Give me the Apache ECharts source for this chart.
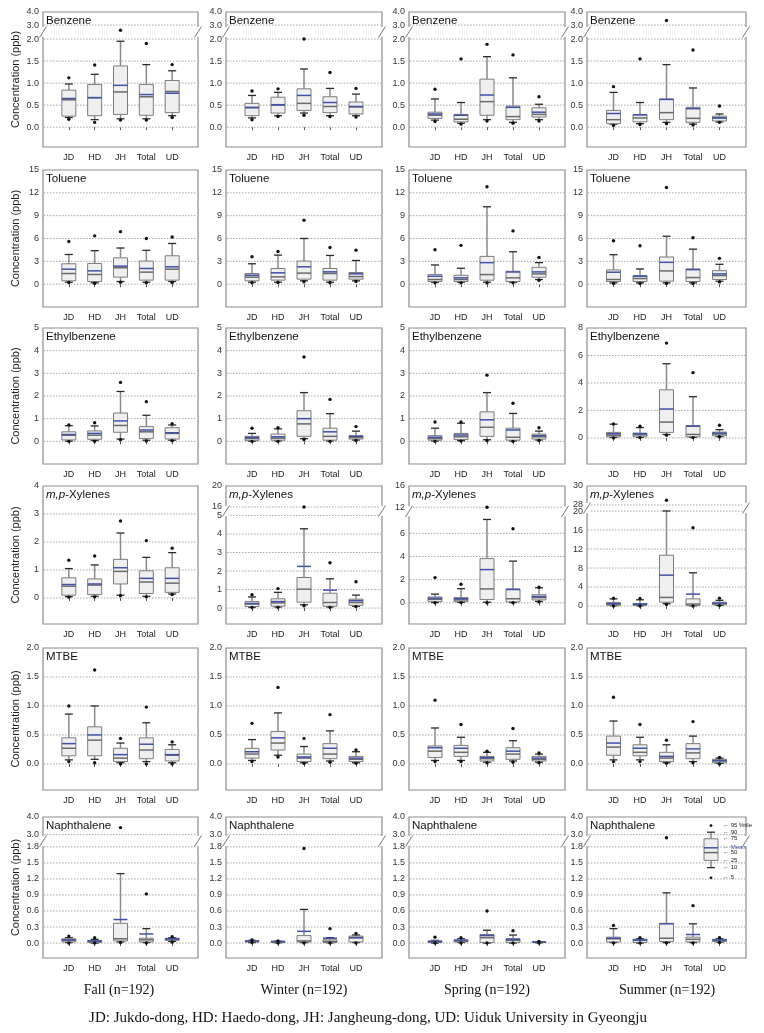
<!DOCTYPE html>
<html><head><meta charset="utf-8">
<script src="https://cdn.jsdelivr.net/npm/echarts@6/dist/echarts.min.js"></script>
<style>html,body{margin:0;padding:0;background:#fff}#c{width:764px;height:1033px}</style>
</head><body><div id="c"></div>
<script>
const categories = ['JD','HD','JH','Total','UD'];
const seasons = ['Fall (n=192)','Winter (n=192)','Spring (n=192)','Summer (n=192)'];
const compounds = ['Benzene','Toluene','Ethylbenzene','{i|m,p}-Xylenes','MTBE','Naphthalene'];
const footnote = 'JD: Jukdo-dong, HD: Haedo-dong, JH: Jangheung-dong, UD: Uiduk University in Gyeongju';
const yTitle = 'Concentration (ppb)';

// per site: [p5, p10, p25, p50, mean, p75, p90, p95]
const benzeneFall = [[0.18,0.22,0.25,0.62,0.65,0.84,0.98,1.12],[0.11,0.17,0.26,0.67,0.67,0.97,1.20,1.41],[0.16,0.19,0.29,0.80,0.95,1.39,1.95,2.63],[0.16,0.19,0.27,0.69,0.74,0.97,1.42,1.90],[0.22,0.26,0.33,0.81,0.77,1.06,1.28,1.42]];
const benzeneWinter = [[0.17,0.21,0.26,0.44,0.45,0.54,0.72,0.82],[0.24,0.26,0.32,0.50,0.51,0.68,0.79,0.87],[0.27,0.32,0.38,0.54,0.72,0.87,1.32,2.0],[0.24,0.26,0.33,0.47,0.56,0.69,0.88,1.24],[0.23,0.26,0.30,0.46,0.47,0.57,0.75,0.88]];
const benzeneSpring = [[0.13,0.16,0.20,0.27,0.30,0.34,0.64,0.86],[0.07,0.09,0.12,0.18,0.27,0.29,0.56,1.55],[0.14,0.17,0.27,0.58,0.73,1.09,1.60,1.88],[0.09,0.11,0.17,0.24,0.45,0.48,1.12,1.64],[0.14,0.17,0.23,0.29,0.34,0.44,0.52,0.69]];
const benzeneSummer = [[0.04,0.07,0.08,0.17,0.31,0.38,0.79,0.92],[0.06,0.08,0.12,0.21,0.28,0.28,0.56,1.55],[0.08,0.11,0.17,0.33,0.63,0.64,1.42,3.35],[0.05,0.07,0.11,0.20,0.42,0.45,0.89,1.75],[0.11,0.12,0.14,0.21,0.21,0.25,0.30,0.48]];

const tolueneFall = [[0.22,0.26,0.44,1.40,1.97,2.68,3.90,5.6],[0.10,0.18,0.35,1.27,1.75,2.72,4.40,6.35],[0.26,0.35,0.92,2.15,2.37,3.46,4.75,6.9],[0.18,0.26,0.53,1.58,2.06,3.03,4.45,6.0],[0.22,0.35,0.53,1.97,2.28,3.73,5.35,6.2]];
const tolueneWinter = [[0.18,0.26,0.44,0.92,1.18,1.40,2.68,3.6],[0.22,0.26,0.53,0.96,1.49,2.06,3.82,4.3],[0.31,0.44,0.66,1.45,2.28,3.03,6.0,8.4],[0.18,0.26,0.53,1.40,1.62,2.06,3.77,4.82],[0.35,0.44,0.66,1.0,1.36,1.53,3.11,4.47]];
const tolueneSpring = [[0.17,0.26,0.35,0.61,1.04,1.26,2.52,4.52],[0.17,0.26,0.35,0.61,0.83,1.17,2.09,5.1],[0.17,0.26,0.52,1.26,2.83,3.65,10.17,12.8],[0.17,0.26,0.35,0.83,1.6,1.70,4.26,7.0],[0.52,0.61,0.91,1.35,1.61,2.22,2.83,3.52]];
const tolueneSummer = [[0.09,0.17,0.35,0.61,1.57,1.87,3.87,5.7],[0.09,0.17,0.35,0.74,1.04,1.13,2.0,5.04],[0.09,0.17,0.39,1.74,2.87,3.57,6.3,12.7],[0.09,0.17,0.35,0.87,1.91,2.0,4.6,6.09],[0.30,0.39,0.61,1.13,1.35,1.78,2.61,3.39]];

const ethylFall = [[0.0,0.01,0.06,0.27,0.30,0.42,0.69,0.72],[0.0,0.04,0.09,0.27,0.35,0.46,0.68,0.82],[0.07,0.1,0.4,0.7,0.9,1.25,2.2,2.6],[0.02,0.05,0.12,0.42,0.5,0.65,1.15,1.75],[0.03,0.05,0.1,0.35,0.38,0.6,0.72,0.78]];
const ethylWinter = [[0.0,0.01,0.03,0.12,0.17,0.22,0.35,0.58],[0.0,0.02,0.05,0.14,0.2,0.32,0.55,0.6],[0.08,0.12,0.22,0.77,1.0,1.35,2.15,3.72],[0.0,0.02,0.05,0.22,0.42,0.58,1.22,1.85],[0.04,0.06,0.1,0.17,0.22,0.25,0.45,0.65]];
const ethylSpring = [[0.0,0.02,0.05,0.12,0.18,0.25,0.58,0.85],[0.01,0.03,0.08,0.2,0.28,0.35,0.8,0.85],[0.04,0.07,0.22,0.62,0.95,1.3,2.15,2.92],[0.0,0.02,0.05,0.18,0.5,0.58,1.23,1.68],[0.04,0.06,0.1,0.2,0.25,0.32,0.45,0.6]];
const ethylSummer = [[0.0,0.03,0.08,0.2,0.3,0.4,1.0,1.02],[0.02,0.04,0.08,0.22,0.3,0.35,0.75,0.85],[0.2,0.25,0.4,1.15,2.1,3.5,5.4,6.9],[0.02,0.04,0.08,0.25,0.85,0.9,3.0,4.75],[0.08,0.1,0.15,0.28,0.35,0.42,0.6,0.92]];

const xyleneFall = [[0.03,0.05,0.1,0.42,0.48,0.72,1.05,1.35],[0.04,0.06,0.12,0.46,0.5,0.68,1.18,1.5],[0.08,0.1,0.5,0.95,1.08,1.38,2.32,2.75],[0.04,0.06,0.16,0.57,0.7,0.97,1.45,2.05],[0.12,0.14,0.2,0.53,0.7,1.08,1.62,1.78]];
const xyleneWinter = [[0.03,0.05,0.08,0.22,0.25,0.35,0.6,0.72],[0.04,0.06,0.1,0.28,0.35,0.5,0.85,1.05],[0.12,0.18,0.32,1.02,2.25,1.65,4.28,16.0],[0.04,0.06,0.1,0.3,0.97,0.8,1.58,2.45],[0.08,0.1,0.15,0.3,0.4,0.48,0.7,1.42]];
const xyleneSpring = [[0.0,0.03,0.1,0.3,0.4,0.5,0.75,2.18],[0.02,0.04,0.1,0.25,0.35,0.45,1.22,1.6],[0.0,0.05,0.28,1.2,2.87,3.82,7.2,12.0],[0.01,0.03,0.08,0.35,1.15,1.2,3.6,6.4],[0.08,0.12,0.25,0.45,0.55,0.7,1.3,1.35]];
const xyleneSummer = [[0.0,0.05,0.15,0.4,0.5,0.75,1.5,1.65],[0.0,0.05,0.15,0.3,0.4,0.5,1.3,1.6],[0.3,0.5,0.8,1.8,6.5,10.7,20.2,28.5],[0.0,0.05,0.1,0.4,2.5,1.5,7.0,16.5],[0.08,0.12,0.25,0.5,0.6,0.8,1.2,1.65]];

const mtbeFall = [[0.04,0.07,0.14,0.27,0.35,0.45,0.86,1.0],[0.02,0.08,0.14,0.41,0.5,0.64,1.0,1.62],[0.0,0.02,0.04,0.1,0.16,0.27,0.36,0.44],[0.0,0.04,0.09,0.24,0.34,0.45,0.71,0.98],[0.0,0.02,0.05,0.15,0.16,0.25,0.33,0.38]];
const mtbeWinter = [[0.04,0.06,0.1,0.17,0.21,0.27,0.42,0.7],[0.12,0.15,0.24,0.36,0.45,0.56,0.88,1.32],[0.01,0.02,0.04,0.1,0.12,0.17,0.3,0.44],[0.03,0.05,0.09,0.17,0.27,0.35,0.57,0.85],[0.01,0.02,0.04,0.08,0.1,0.13,0.21,0.24]];
const mtbeSpring = [[0.04,0.06,0.11,0.22,0.28,0.31,0.62,1.1],[0.04,0.06,0.13,0.2,0.27,0.32,0.46,0.68],[0.02,0.03,0.05,0.09,0.11,0.13,0.2,0.22],[0.03,0.05,0.08,0.17,0.22,0.28,0.4,0.61],[0.02,0.03,0.05,0.08,0.1,0.13,0.17,0.19]];
const mtbeSummer = [[0.04,0.07,0.15,0.29,0.36,0.48,0.74,1.15],[0.04,0.07,0.14,0.2,0.27,0.33,0.46,0.68],[0.01,0.02,0.04,0.1,0.13,0.2,0.33,0.41],[0.02,0.04,0.09,0.19,0.26,0.35,0.48,0.73],[0.0,0.01,0.02,0.05,0.06,0.08,0.1,0.11]];

const naphFall = [[0.0,0.01,0.02,0.05,0.06,0.08,0.1,0.13],[0.0,0.0,0.01,0.03,0.04,0.05,0.07,0.1],[0.01,0.02,0.04,0.08,0.44,0.37,1.3,3.4],[0.0,0.01,0.02,0.06,0.17,0.09,0.27,0.92],[0.02,0.03,0.05,0.07,0.08,0.09,0.1,0.12]];
const naphWinter = [[0.01,0.01,0.02,0.03,0.04,0.04,0.05,0.06],[0.0,0.005,0.01,0.02,0.03,0.03,0.035,0.04],[0.0,0.01,0.02,0.04,0.22,0.14,0.63,1.77],[0.0,0.005,0.01,0.03,0.09,0.06,0.1,0.27],[0.0,0.01,0.02,0.1,0.1,0.13,0.15,0.18]];
const naphSpring = [[0.0,0.0,0.01,0.02,0.03,0.04,0.05,0.11],[0.0,0.01,0.02,0.04,0.05,0.06,0.08,0.1],[0.0,0.0,0.01,0.1,0.14,0.16,0.24,0.6],[0.0,0.0,0.01,0.05,0.07,0.08,0.15,0.23],[0.0,0.005,0.01,0.015,0.02,0.02,0.025,0.03]];
const naphSummer = [[0.0,0.01,0.02,0.08,0.09,0.11,0.27,0.33],[0.0,0.0,0.01,0.05,0.06,0.07,0.08,0.1],[0.0,0.01,0.03,0.09,0.36,0.37,0.94,2.7],[0.0,0.01,0.02,0.07,0.16,0.11,0.36,0.7],[0.01,0.02,0.03,0.05,0.06,0.07,0.08,0.1]];

// legend key (illustrative positions) and its labels
const legendKey = [0.7, 2.4, 3.6, 4.9, 5.7, 7.2, 8.3, 9.4];
const legendNames = ['5','10','25','50','Mean','75','90','95 %tile'];

// tick labels
const benzeneTicks = [0,0.5,1,1.5,2,3,4];
const tolueneTicks = [0,3,6,9,12,15];
const ethylTicks = [0,1,2,3,4,5];
const ethylSummerTicks = [0,2,4,6,8];
const xyleneFallTicks = [0,1,2,3,4];
const xyleneWinterTicks = [0,1,2,3,4,5,16,20];
const xyleneSpringTicks = [0,2,4,6,12,16];
const xyleneSummerTicks = [0,4,8,12,16,20,28,30];
const mtbeTicks = [0,0.5,1,1.5,2];
const naphTicks = [0,0.3,0.6,0.9,1.2,1.5,1.8,3,4];

// axis scale set-up (broken axes: value -> display knots)
const scaleBenzene = {min:-0.45, knots:[[2,2],[3,2.318],[4,2.614]], brk:2.16, dec:1};
const scaleToluene = {min:-3, dec:0};
const scaleEthyl = {min:-1, dec:0};
const scaleEthylSummer = {min:-1.9, dec:0};
const scaleXyleneFall = {min:-0.93, dec:0};
const scaleXyleneWinter = {min:-0.86, knots:[[5,5],[16,5.46],[20,6.59]], brk:5.24, dec:0};
const scaleXyleneSpring = {min:-1.83, knots:[[7.6,7.6],[12,8.26],[16,10.09]], brk:7.9, dec:0};
const scaleXyleneSummer = {min:-3.8, knots:[[20,20],[28,21.3],[30,25.3]], brk:20.65, dec:0};
const scaleMtbe = {min:-0.45, dec:1};
const scaleNaph = {min:-0.28, knots:[[1.8,1.8],[3,2.03],[4,2.36]], brk:1.91, dec:1};

const panelDefs = [
  [[benzeneFall,benzeneTicks,scaleBenzene],[benzeneWinter,benzeneTicks,scaleBenzene],[benzeneSpring,benzeneTicks,scaleBenzene],[benzeneSummer,benzeneTicks,scaleBenzene]],
  [[tolueneFall,tolueneTicks,scaleToluene],[tolueneWinter,tolueneTicks,scaleToluene],[tolueneSpring,tolueneTicks,scaleToluene],[tolueneSummer,tolueneTicks,scaleToluene]],
  [[ethylFall,ethylTicks,scaleEthyl],[ethylWinter,ethylTicks,scaleEthyl],[ethylSpring,ethylTicks,scaleEthyl],[ethylSummer,ethylSummerTicks,scaleEthylSummer]],
  [[xyleneFall,xyleneFallTicks,scaleXyleneFall],[xyleneWinter,xyleneWinterTicks,scaleXyleneWinter],[xyleneSpring,xyleneSpringTicks,scaleXyleneSpring],[xyleneSummer,xyleneSummerTicks,scaleXyleneSummer]],
  [[mtbeFall,mtbeTicks,scaleMtbe],[mtbeWinter,mtbeTicks,scaleMtbe],[mtbeSpring,mtbeTicks,scaleMtbe],[mtbeSummer,mtbeTicks,scaleMtbe]],
  [[naphFall,naphTicks,scaleNaph],[naphWinter,naphTicks,scaleNaph],[naphSpring,naphTicks,scaleNaph],[naphSummer,naphTicks,scaleNaph]]
];

const rowsTop = [12,170,328,486,648,817];
const rowsBottom = [147,307,464,624,790,958];
const colsLeft = [43,226,409,587];
const colsRight = [198,382,565,746];

function tf(v, knots){
  if(!knots || v <= knots[0][0]) return v;
  for (let i=0;i<knots.length-1;i++){
    const a=knots[i][0], da=knots[i][1], b=knots[i+1][0], db=knots[i+1][1];
    if (v<=b) return da+(v-a)*(db-da)/(b-a);
  }
  const n=knots.length, a=knots[n-2][0], da=knots[n-2][1], b=knots[n-1][0], db=knots[n-1][1];
  return db+(v-b)*(db-da)/(b-a);
}

const BOX_FILL='#efefef', BOX_LINE='#7c7c7c', WHISK='#8a8a8a', CAP='#2a2a2a', MED='#6a6a6a', MEAN='#4052a8', DOT='#111';

function boxShapes(x, ys, hw, cw, r){
  const [y5,y10,y25,y50,ym,y75,y90,y95]=ys;
  return [
    {type:'line', shape:{x1:x,y1:y10,x2:x,y2:y25}, style:{stroke:WHISK,lineWidth:1.5}},
    {type:'line', shape:{x1:x,y1:y75,x2:x,y2:y90}, style:{stroke:WHISK,lineWidth:1.5}},
    {type:'line', shape:{x1:x-cw,y1:y10,x2:x+cw,y2:y10}, style:{stroke:CAP,lineWidth:1.3}},
    {type:'line', shape:{x1:x-cw,y1:y90,x2:x+cw,y2:y90}, style:{stroke:CAP,lineWidth:1.3}},
    {type:'rect', shape:{x:x-hw,y:y75,width:2*hw,height:Math.max(y25-y75,0.5)}, style:{fill:BOX_FILL,stroke:BOX_LINE,lineWidth:1}},
    {type:'line', shape:{x1:x-hw,y1:y50,x2:x+hw,y2:y50}, style:{stroke:MED,lineWidth:1.5}},
    {type:'line', shape:{x1:x-hw,y1:ym,x2:x+hw,y2:ym}, style:{stroke:MEAN,lineWidth:1.5}},
    {type:'circle', shape:{cx:x,cy:y5,r:r}, style:{fill:DOT}},
    {type:'circle', shape:{cx:x,cy:y95,r:r}, style:{fill:DOT}}
  ];
}

const grids=[], xAxes=[], yAxes=[], series=[], titles=[];
panelDefs.forEach((row, r) => row.forEach((p, c) => {
  const [data, ticks, sc] = p;
  const gi = grids.length;
  grids.push({left:colsLeft[c], top:rowsTop[r], width:colsRight[c]-colsLeft[c], height:rowsBottom[r]-rowsTop[r],
    show:true, borderColor:'#8c8c8c', borderWidth:1.2, backgroundColor:'#fff'});
  const tickD = ticks.map(t=>tf(t, sc.knots));
  const max = tickD[tickD.length-1];
  xAxes.push({gridIndex:gi, type:'category', data:['',...categories,''], boundaryGap:false,
    axisLine:{show:false}, splitLine:{show:false},
    axisTick:{show:true, length:3, interval:(i)=>i>0&&i<6, lineStyle:{color:'#555'}},
    axisLabel:{interval:0, fontSize:9, color:'#222', margin:6, fontFamily:'Arial'}});
  yAxes.push({gridIndex:gi, type:'value', min:sc.min, max:max,
    axisLine:{show:false}, axisTick:{show:false}, splitLine:{show:false},
    name: c===0 ? yTitle : '', nameLocation:'middle', nameGap:22,
    nameTextStyle:{fontSize:11, color:'#222', fontFamily:'Arial'},
    axisLabel:{customValues:tickD, fontSize:9, color:'#333', margin:4, fontFamily:'Arial',
      showMinLabel:true, showMaxLabel:true,
      formatter:(v)=>{ let k=0,b=1e9; tickD.forEach((d,i)=>{const e=Math.abs(d-v); if(e<b){b=e;k=i;}}); return ticks[k].toFixed(sc.dec);} }});
  titles.push({text:compounds[r], left:colsLeft[c]+3, top:rowsTop[r]+3, padding:0,
    textStyle:{fontSize:11.5, fontWeight:'normal', color:'#111', fontFamily:'Arial',
      rich:{i:{fontStyle:'italic', fontSize:11.5, color:'#111', fontFamily:'Arial'}}}});
  // dotted grid lines at ticks
  series.push({type:'custom', xAxisIndex:gi, yAxisIndex:gi, silent:true, z:1, clip:false,
    data: tickD.slice(0,-1).map(d=>[0,d]),
    renderItem:(params, api)=>{
      const p1=api.coord([0, api.value(1)]), p2=api.coord([6, api.value(1)]);
      return {type:'line', shape:{x1:p1[0]+1,y1:p1[1],x2:p2[0]-1,y2:p1[1]}, style:{stroke:'#8f8f8f', lineWidth:0.8, lineDash:[1.5,1.5]}};
    }});
  // boxes
  series.push({type:'custom', xAxisIndex:gi, yAxisIndex:gi, silent:true, z:3, clip:false,
    encode:{x:0, y:1},
    data: data.map((s,i)=>[i+1, ...s.map(v=>tf(v, sc.knots))]),
    renderItem:(params, api)=>{
      const x = api.coord([api.value(0), 0])[0];
      const ys=[]; for(let k=1;k<=8;k++) ys.push(api.coord([api.value(0), api.value(k)])[1]);
      return {type:'group', children: boxShapes(x, ys, 7, 4, 1.7)};
    }});
  // axis break marks
  if (sc.brk !== undefined) {
    series.push({type:'custom', xAxisIndex:gi, yAxisIndex:gi, silent:true, z:5, clip:false,
      data:[[0, sc.brk]],
      renderItem:(params, api)=>{
        const p1=api.coord([0, api.value(1)]), p2=api.coord([6, api.value(1)]);
        const ch=[];
        [p1[0], p2[0]].forEach(x0=>{
          const yc=p1[1];
          ch.push({type:'rect', shape:{x:x0-2, y:yc-5, width:4, height:10}, style:{fill:'#fff'}});
          ch.push({type:'line', shape:{x1:x0-3.5, y1:yc+5.5, x2:x0+3.5, y2:yc-5.5}, style:{stroke:'#777', lineWidth:1}});
        });
        return {type:'group', children:ch};
      }});
  }
}));

// legend key in the summer naphthalene panel
const lg = grids.length;
grids.push({left:703, top:822, width:16, height:60, show:false});
xAxes.push({gridIndex:lg, type:'value', min:-1, max:1, show:false});
yAxes.push({gridIndex:lg, type:'value', min:0, max:10, show:false});
series.push({type:'custom', xAxisIndex:lg, yAxisIndex:lg, silent:true, z:6, clip:false,
  data:[[0, ...legendKey]],
  renderItem:(params, api)=>{
    const x = api.coord([0, 0])[0];
    const ys=[]; for(let k=1;k<=8;k++) ys.push(api.coord([0, api.value(k)])[1]);
    const ch = boxShapes(x, ys, 7, 4, 1.4);
    ys.forEach((y,i)=>{
      ch.push({type:'text', x:x+12, y:y, style:{text:'\u2190 '+legendNames[i], fontSize:6, fontFamily:'Arial',
        fill: legendNames[i]==='Mean' ? MEAN : '#222', align:'left', verticalAlign:'middle'}});
    });
    return {type:'group', children:ch};
  }});

const graphics = [];
const seasonCenters = [119,304,487,667];
seasons.forEach((s,c)=>{
  graphics.push({type:'text', x:seasonCenters[c], y:990,
    style:{text:s, font:'14px "Liberation Serif", "Times New Roman", serif', fill:'#111', align:'center', verticalAlign:'middle'}});
});
graphics.push({type:'text', x:368, y:1018,
  style:{text:footnote, font:'15px "Liberation Serif", "Times New Roman", serif', fill:'#111', align:'center', verticalAlign:'middle'}});

const chart = echarts.init(document.getElementById('c'), null, {renderer:'canvas'});
chart.setOption({
  animation:false,
  backgroundColor:'#fff',
  title:titles, grid:grids, xAxis:xAxes, yAxis:yAxes, series:series, graphic:graphics
});
</script></body></html>
